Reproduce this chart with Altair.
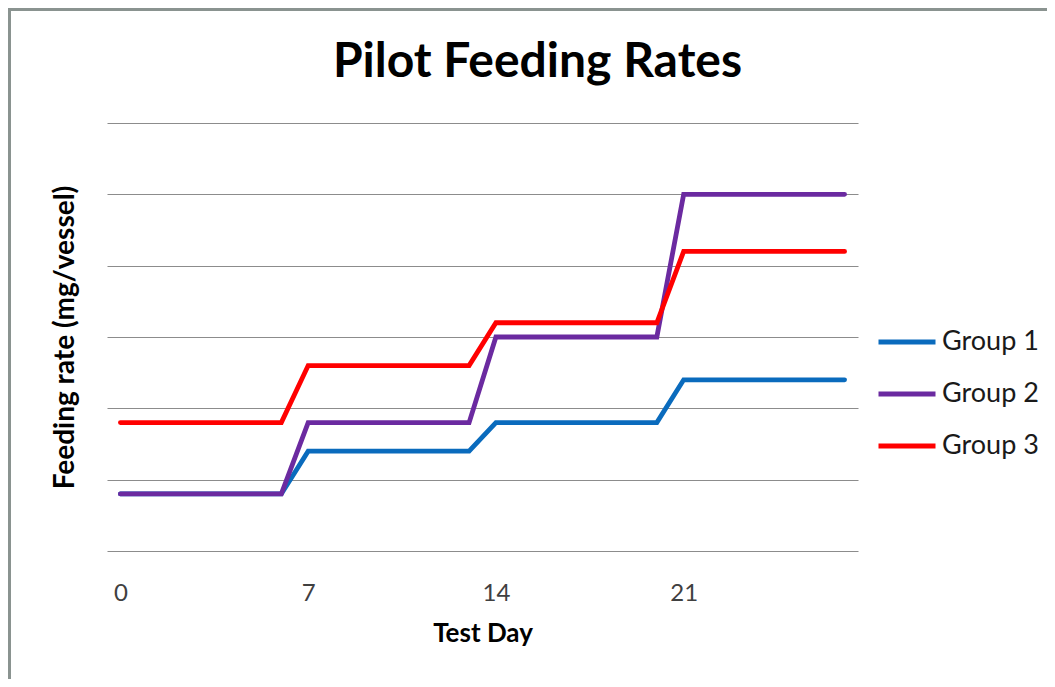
import altair as alt
import pandas as pd

days = [0, 6, 7, 13, 14, 20, 21, 27]
group1 = [0.8, 0.8, 1.4, 1.4, 1.8, 1.8, 2.4, 2.4]
group2 = [0.8, 0.8, 1.8, 1.8, 3.0, 3.0, 5.0, 5.0]
group3 = [1.8, 1.8, 2.6, 2.6, 3.2, 3.2, 4.2, 4.2]
series_names = ["Group 1", "Group 2", "Group 3"]
series_colors = ["#0a6bbd", "#6b2aa0", "#ff0000"]
x_ticks = [0, 7, 14, 21]
y_grid = [0, 1, 2, 3, 4, 5, 6]

rows = []
for name, vals in zip(series_names, [group1, group2, group3]):
    for d, v in zip(days, vals):
        rows.append({"day": d, "rate": v, "group": name})
df = pd.DataFrame(rows)

W, H = 751, 428
PL, PT = 99, 115
PR = 1039 - PL - W
PB = 671 - PT - H

lines = alt.Chart(df).mark_line(strokeWidth=4.8, strokeCap="round").encode(
    x=alt.X("day:Q", scale=alt.Scale(domain=[-0.5, 27.5], nice=False, zero=False),
            axis=alt.Axis(values=x_ticks, grid=False, ticks=False, domain=False,
                          title="Test Day", labelFont="Lato", labelFontSize=24,
                          labelColor="#404040", labelPadding=30,
                          titleFont="Lato", titleFontSize=26, titleFontWeight="bold",
                          titleColor="black", titlePadding=15)),
    y=alt.Y("rate:Q", scale=alt.Scale(domain=[0, 6], nice=False),
            axis=alt.Axis(values=y_grid, labels=False, ticks=False, domain=False,
                          grid=True, gridColor="#8c8c8c", gridWidth=1.2,
                          title="Feeding rate (mg/vessel)", titleFont="Lato",
                          titleFontSize=28, titleFontWeight="bold", titleColor="black",
                          titlePadding=28)),
    color=alt.Color("group:N", scale=alt.Scale(domain=series_names, range=series_colors),
                    legend=alt.Legend(title=None, orient="none", legendX=769, legendY=188,
                                      symbolType="stroke", symbolSize=3249,
                                      symbolStrokeWidth=4.8, labelFont="Lato",
                                      labelFontSize=27, labelColor="#1a1a1a",
                                      labelOffset=4, rowPadding=8)),
    order=alt.Order("day:Q"),
)

frame_top = alt.Chart(alt.Data(values=[{}])).mark_rule(color="#8a9390", strokeWidth=3).encode(
    x=alt.value(-PL), x2=alt.value(W + PR), y=alt.value(-PT + 1.5))
frame_left = alt.Chart(alt.Data(values=[{}])).mark_rule(color="#8a9390", strokeWidth=3).encode(
    x=alt.value(-PL + 1.5), y=alt.value(-PT), y2=alt.value(H + PB))

chart = alt.layer(lines, frame_top, frame_left).properties(
    width=W, height=H,
    title=alt.TitleParams("Pilot Feeding Rates", font="Lato", fontSize=48,
                          fontWeight="bold", color="black", anchor="middle",
                          baseline="alphabetic", dx=55, dy=118, offset=0),
    autosize=alt.AutoSizeParams(type="none"),
    padding={"left": PL, "top": PT, "right": PR, "bottom": PB},
).configure(background="white").configure_view(stroke=None)

chart.save("out.html", embed_options={"renderer": "svg", "actions": False})
